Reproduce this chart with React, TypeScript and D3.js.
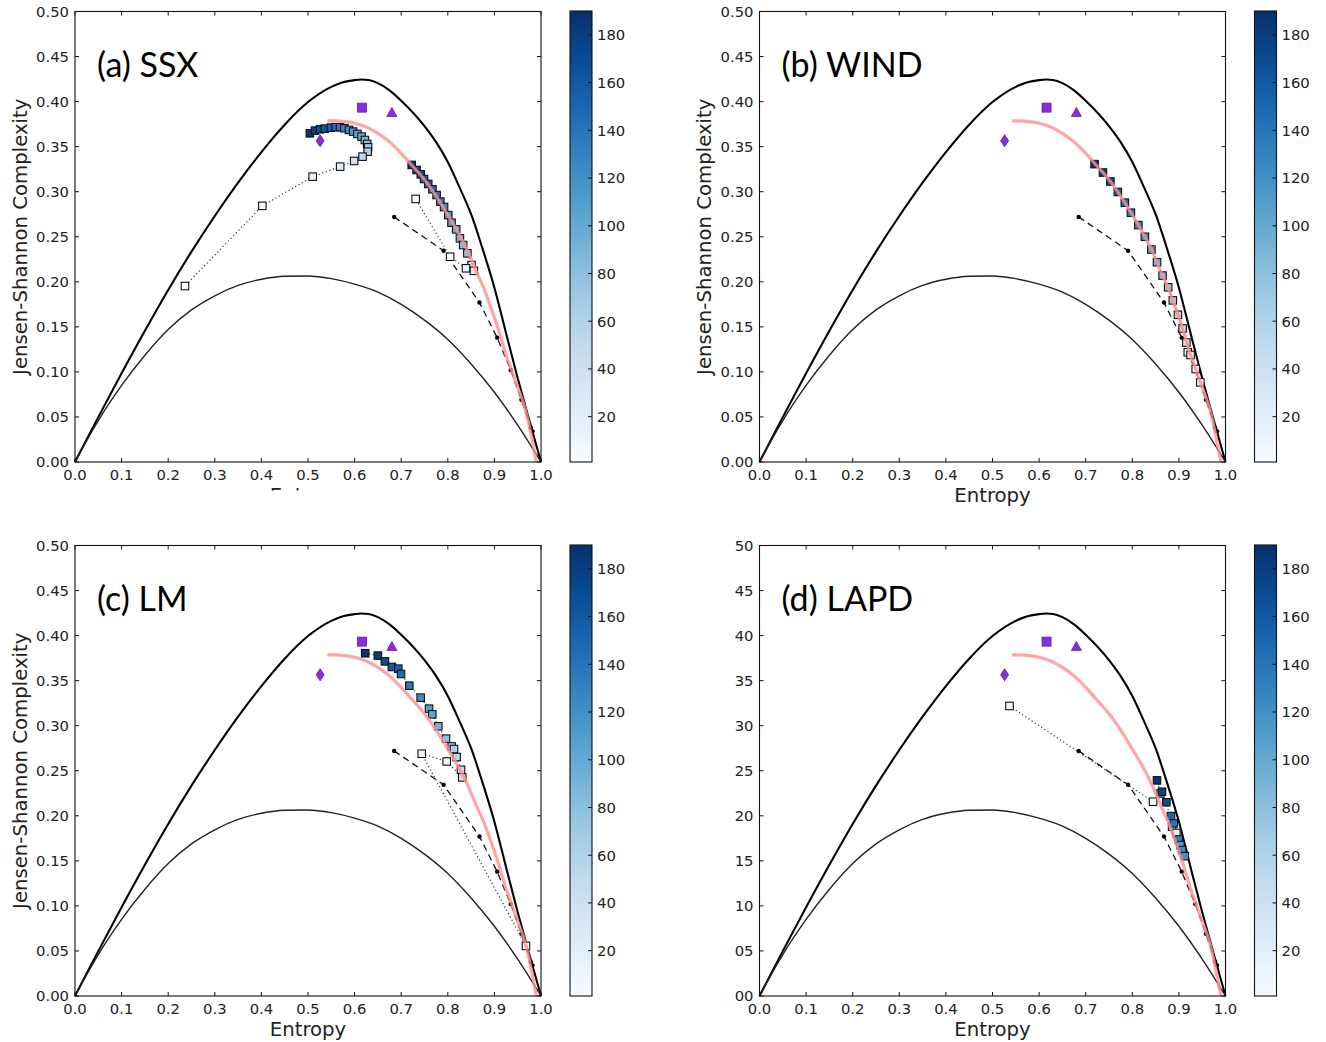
import React from "react";
import * as d3 from "d3";

// ---------- shared reference curves (Entropy, Complexity) ----------
const UPPER_BOUND: number[][] = [
  [0, 0], [0.025, 0.025], [0.05, 0.0498], [0.1, 0.0985], [0.15, 0.1457], [0.2, 0.191],
  [0.25, 0.2335], [0.3, 0.273], [0.35, 0.31], [0.4, 0.344], [0.45, 0.3744], [0.5, 0.3995],
  [0.55, 0.4164], [0.575, 0.4214], [0.6, 0.4238], [0.615, 0.4245], [0.63, 0.424],
  [0.65, 0.4205], [0.675, 0.4125], [0.7, 0.401], [0.75, 0.3728], [0.775, 0.355],
  [0.8, 0.333], [0.825, 0.305], [0.85, 0.275], [0.875, 0.236], [0.9, 0.1935],
  [0.925, 0.143], [0.95, 0.093], [0.975, 0.046], [1, 0],
];
const LOWER_BOUND: number[][] = [
  [0, 0], [0.025, 0.0238], [0.05, 0.046], [0.1, 0.085], [0.15, 0.1185], [0.2, 0.147],
  [0.25, 0.1688], [0.3, 0.1845], [0.35, 0.196], [0.4, 0.2028], [0.45, 0.2061], [0.5, 0.2065],
  [0.55, 0.2035], [0.6, 0.1974], [0.65, 0.1885], [0.7, 0.175], [0.75, 0.1575], [0.8, 0.136],
  [0.85, 0.1088], [0.9, 0.0774], [0.95, 0.0409], [1, 0],
];
const PINK_CURVE: number[][] = [
  [0.5415, 0.3786], [0.56, 0.3786], [0.58, 0.3777], [0.6, 0.376], [0.625, 0.3718],
  [0.65, 0.3648], [0.675, 0.3553], [0.7, 0.3425], [0.719, 0.3315], [0.737, 0.3213],
  [0.753, 0.3113], [0.769, 0.2997], [0.784, 0.2878], [0.797, 0.2767], [0.813, 0.263],
  [0.827, 0.25], [0.841, 0.2358], [0.853, 0.2217], [0.865, 0.2069], [0.877, 0.1934],
  [0.887, 0.1794], [0.898, 0.1634], [0.908, 0.1482], [0.916, 0.1343], [0.925, 0.1188],
  [0.936, 0.1032], [0.946, 0.0884], [0.968, 0.0556], [0.99, 0],
];
const DASHED_DOTS: number[][] = [
  [0.685, 0.272], [0.791, 0.2345], [0.868, 0.177], [0.906, 0.138], [0.935, 0.102],
  [0.958, 0.069], [0.978, 0.038], [0.982, 0.034],
];
const PURPLE_SQUARE = [0.616, 0.3933];
const PURPLE_TRIANGLE = [0.68, 0.3874];
const PURPLE_DIAMOND = [0.526, 0.3565];

// ---------- per-panel series: [entropy, complexity, colour value] ----------
const SSX_SPIRAL: number[][] = [
  [0.504, 0.3648, 186], [0.515, 0.3678, 178], [0.526, 0.3693, 168], [0.536, 0.37, 160],
  [0.549, 0.3711, 152], [0.559, 0.3716, 144], [0.569, 0.3716, 136], [0.578, 0.3704, 128],
  [0.588, 0.3686, 120], [0.597, 0.3667, 112], [0.606, 0.3641, 104], [0.615, 0.3611, 96],
  [0.622, 0.3574, 88], [0.627, 0.353, 80], [0.629, 0.3493, 72], [0.628, 0.3444, 62],
  [0.617, 0.3389, 50], [0.599, 0.3341, 36], [0.569, 0.3278, 20], [0.51, 0.3167, 10],
  [0.402, 0.2843, 4], [0.236, 0.1953, 1],
];
const SSX_BRANCH: number[][] = [
  [0.7225, 0.3297, 186], [0.733, 0.3241, 178], [0.742, 0.3193, 170], [0.749, 0.3141, 162],
  [0.758, 0.3086, 155], [0.767, 0.3027, 148], [0.776, 0.2963, 140], [0.784, 0.289, 132],
  [0.792, 0.283, 124], [0.801, 0.274, 116], [0.808, 0.2656, 108], [0.818, 0.2582, 100],
  [0.826, 0.2482, 92], [0.833, 0.2408, 84], [0.842, 0.2316, 76], [0.851, 0.2186, 40],
  [0.856, 0.2122, 20], [0.839, 0.215, 10], [0.805, 0.2278, 5], [0.731, 0.292, 1],
];
const WIND_SERIES: number[][] = [
  [0.719, 0.3306, 188], [0.737, 0.3213, 178], [0.753, 0.3113, 168], [0.769, 0.2997, 158],
  [0.784, 0.2878, 148], [0.797, 0.2767, 138], [0.813, 0.263, 128], [0.827, 0.25, 118],
  [0.841, 0.2358, 108], [0.853, 0.2217, 98], [0.865, 0.2069, 88], [0.877, 0.1939, 78],
  [0.887, 0.1794, 68], [0.898, 0.1634, 58], [0.908, 0.1482, 45], [0.916, 0.1326, 35],
  [0.919, 0.1218, 20], [0.925, 0.1188, 12], [0.936, 0.1032, 6], [0.946, 0.0884, 1],
];
const LM_SERIES: number[][] = [
  [0.6227, 0.3804, 188], [0.65, 0.3778, 180], [0.665, 0.3714, 170], [0.68, 0.3652, 160],
  [0.6938, 0.3633, 152], [0.6996, 0.3574, 145], [0.7174, 0.3444, 135], [0.7418, 0.3311, 122],
  [0.7597, 0.3189, 110], [0.7667, 0.3126, 103], [0.7796, 0.2993, 92], [0.7961, 0.2856, 80],
  [0.8083, 0.277, 70], [0.8133, 0.2741, 62], [0.819, 0.2652, 55], [0.8283, 0.2511, 45],
  [0.831, 0.2426, 38], [0.7976, 0.2603, 12], [0.744, 0.2689, 4], [0.9677, 0.0556, 1],
];
const LAPD_SERIES: number[][] = [
  [0.5365, 0.3219, 1], [0.8445, 0.2156, 3], [0.8606, 0.2248, 90], [0.853, 0.2393, 188],
  [0.8638, 0.2267, 176], [0.873, 0.215, 168], [0.8854, 0.1878, 70], [0.883, 0.1997, 150],
  [0.889, 0.1916, 140], [0.8946, 0.181, 15], [0.8996, 0.1738, 132], [0.9032, 0.1674, 110],
  [0.907, 0.1619, 126], [0.9125, 0.1552, 120],
];

const X_TICKS = [0, 0.1, 0.2, 0.3, 0.4, 0.5, 0.6, 0.7, 0.8, 0.9, 1.0];
const Y_TICKS = [0, 0.05, 0.1, 0.15, 0.2, 0.25, 0.3, 0.35, 0.4, 0.45, 0.5];
const CBAR_TICKS = [20, 40, 60, 80, 100, 120, 140, 160, 180];
const CBAR_DOMAIN = [1, 190];

const TITLES = ["(a) SSX", "(b) WIND", "(c) LM", "(d) LAPD"];
const Y_LABEL = "Jensen-Shannon Complexity";
const X_LABEL = "Entropy";

const PANELS = [
  { id: "a", title: TITLES[0], left: 75, top: 11.5, series: [SSX_SPIRAL, SSX_BRANCH], yLabel: true, xLabel: "clip", pct: false },
  { id: "b", title: TITLES[1], left: 759.5, top: 11.5, series: [WIND_SERIES], yLabel: true, xLabel: "show", pct: false },
  { id: "c", title: TITLES[2], left: 75, top: 545.5, series: [LM_SERIES], yLabel: true, xLabel: "show", pct: false },
  { id: "d", title: TITLES[3], left: 759.5, top: 545.5, series: [LAPD_SERIES], yLabel: false, xLabel: "show", pct: true },
];

const W = 466;
const H = 450.5;
const FONT = "'DejaVu Sans', sans-serif";
const TICK_FS = 14.8;
const LABEL_FS = 19.7;

const colorScale = d3.scaleSequential(d3.interpolateBlues).domain(CBAR_DOMAIN as [number, number]);

function Panel({ cfg }: { cfg: any }) {
  const x = d3.scaleLinear().domain([0, 1]).range([cfg.left, cfg.left + W]);
  const y = d3.scaleLinear().domain([0, 0.5]).range([cfg.top + H, cfg.top]);
  const bottom = cfg.top + H;
  const right = cfg.left + W;
  const smooth = d3.line<number[]>().x((d) => x(d[0])).y((d) => y(d[1])).curve(d3.curveMonotoneX);
  const straight = d3.line<number[]>().x((d) => x(d[0])).y((d) => y(d[1]));
  const yFmt = (v: number) => (cfg.pct ? String(Math.round(v * 100)).padStart(2, "0") : v.toFixed(2));

  // colorbar
  const cbLeft = right + 29;
  const cbW = 22;
  const cb = d3.scaleLinear().domain(CBAR_DOMAIN).range([bottom, cfg.top - 0.5]);
  const gradId = `grad-${cfg.id}`;
  const stops = d3.range(0, 1.0001, 0.05);
  const clipId = `xclip-${cfg.id}`;

  const sq = 7.5;
  return (
    <g>
      <defs>
        <linearGradient id={gradId} x1="0" y1="1" x2="0" y2="0">
          {stops.map((t) => (
            <stop key={t} offset={`${t * 100}%`} stopColor={d3.interpolateBlues(t)} />
          ))}
        </linearGradient>
        <clipPath id={clipId}>
          <rect x={cfg.left} y={0} width={W} height={bottom + 28.5} />
        </clipPath>
      </defs>

      {/* boundary curves */}
      <path d={smooth(UPPER_BOUND) || ""} fill="none" stroke="#000" strokeWidth={2.1} />
      <path d={smooth(LOWER_BOUND) || ""} fill="none" stroke="#222" strokeWidth={1.4} />

      {/* dashed reference with dots */}
      <path d={straight(DASHED_DOTS) || ""} fill="none" stroke="#111" strokeWidth={1.3} strokeDasharray="6.5,4.5" />
      {DASHED_DOTS.map((d, i) => (
        <circle key={`dd${i}`} cx={x(d[0])} cy={y(d[1])} r={2.2} fill="#000" />
      ))}

      {/* data series */}
      {cfg.series.map((s: number[][], si: number) => (
        <g key={`s${si}`}>
          <path d={straight(s) || ""} fill="none" stroke="#333" strokeWidth={1.2} strokeDasharray="1.2,2.6" />
          {s.map((d, i) => (
            <rect key={i} x={x(d[0]) - sq / 2} y={y(d[1]) - sq / 2} width={sq} height={sq}
              fill={colorScale(d[2])} stroke="#111" strokeWidth={1.1} />
          ))}
        </g>
      ))}

      {/* pink curve */}
      <path d={smooth(PINK_CURVE) || ""} fill="none" stroke="#ff8e8e" strokeOpacity={0.8} strokeWidth={3.2} />

      {/* purple markers */}
      <rect x={x(PURPLE_SQUARE[0]) - 4.5} y={y(PURPLE_SQUARE[1]) - 4.5} width={9} height={9}
        fill="#8a2be2" stroke="#5b1f99" strokeWidth={0.8} />
      <path d={`M${x(PURPLE_TRIANGLE[0])},${y(PURPLE_TRIANGLE[1]) - 5.5} l5,9 l-10,0 Z`}
        fill="#8a2be2" stroke="#5b1f99" strokeWidth={0.8} />
      <path d={`M${x(PURPLE_DIAMOND[0])},${y(PURPLE_DIAMOND[1]) - 6} l4,6 l-4,6 l-4,-6 Z`}
        fill="#8a2be2" stroke="#5b1f99" strokeWidth={0.8} />

      {/* frame and ticks */}
      <rect x={cfg.left} y={cfg.top} width={W} height={H} fill="none" stroke="#111" strokeWidth={1.1} />
      {X_TICKS.map((t) => (
        <g key={`xt${t}`}>
          <line x1={x(t)} x2={x(t)} y1={bottom} y2={bottom - 4} stroke="#111" />
          <line x1={x(t)} x2={x(t)} y1={cfg.top} y2={cfg.top + 4} stroke="#111" />
          <text x={x(t)} y={bottom + 17.5} textAnchor="middle" fontFamily={FONT} fontSize={TICK_FS} fill="#222">
            {t.toFixed(1)}
          </text>
        </g>
      ))}
      {Y_TICKS.map((t) => (
        <g key={`yt${t}`}>
          <line x1={cfg.left} x2={cfg.left + 4} y1={y(t)} y2={y(t)} stroke="#111" />
          <line x1={right} x2={right - 4} y1={y(t)} y2={y(t)} stroke="#111" />
          <text x={cfg.left - 6} y={y(t)} dy="0.36em" textAnchor="end" fontFamily={FONT} fontSize={TICK_FS} fill="#222">
            {yFmt(t)}
          </text>
        </g>
      ))}

      {cfg.yLabel && (
        <text transform={`translate(${cfg.left - 48.5},${cfg.top + H / 2}) rotate(-90)`} textAnchor="middle"
          fontFamily={FONT} fontSize={LABEL_FS} fill="#222">
          {Y_LABEL}
        </text>
      )}
      {cfg.xLabel === "show" && (
        <text x={cfg.left + W / 2} y={bottom + 39.7} textAnchor="middle" fontFamily={FONT} fontSize={LABEL_FS} fill="#222">
          {X_LABEL}
        </text>
      )}
      {cfg.xLabel === "clip" && (
        <g clipPath={`url(#${clipId})`}>
          <text x={cfg.left + W / 2} y={bottom + 39.7} textAnchor="middle" fontFamily={FONT} fontSize={LABEL_FS} fill="#222">
            {X_LABEL}
          </text>
        </g>
      )}

      {/* title */}
      <text x={cfg.left + 22} y={cfg.top + 65.5} fontFamily="Lato, 'Open Sans', sans-serif" fontSize={34} fill="#000">
        {cfg.title}
      </text>

      {/* colorbar */}
      <rect x={cbLeft} y={cfg.top - 0.5} width={cbW} height={H + 0.5} fill={`url(#${gradId})`} stroke="#111" strokeWidth={1.1} />
      {CBAR_TICKS.map((t) => (
        <g key={`cb${t}`}>
          <line x1={cbLeft + cbW} x2={cbLeft + cbW - 4} y1={cb(t)} y2={cb(t)} stroke="#111" />
          <text x={cbLeft + cbW + 5} y={cb(t)} dy="0.36em" fontFamily={FONT} fontSize={TICK_FS} fill="#222">
            {t}
          </text>
        </g>
      ))}
    </g>
  );
}

export default function App() {
  return (
    <svg width={1326} height={1042} style={{ display: "block", position: "absolute", left: 0, top: 0, background: "#fff" }}>
      <rect x={0} y={0} width={1326} height={1042} fill="#fff" />
      {PANELS.map((p) => (
        <Panel key={p.id} cfg={p} />
      ))}
    </svg>
  );
}
